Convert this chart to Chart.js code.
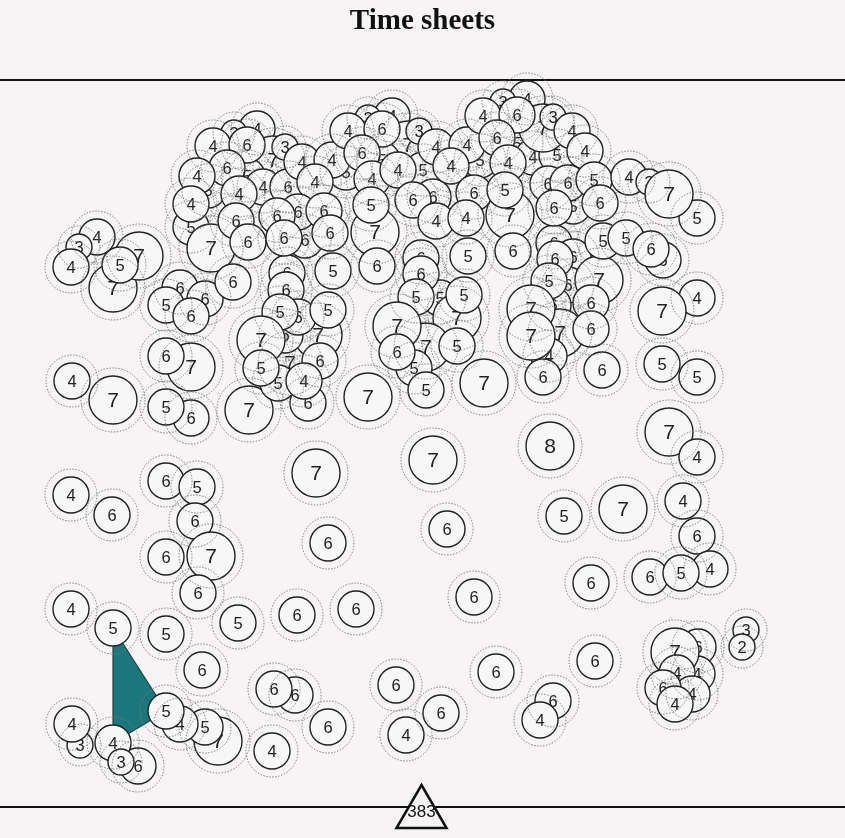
<!DOCTYPE html>
<html><head><meta charset="utf-8">
<script src="https://cdn.jsdelivr.net/npm/chart.js@4.4.1/dist/chart.umd.min.js"></script>
<style>html,body{margin:0;padding:0;background:#f6f4f4;}#wrap{width:845px;height:838px;position:relative;}</style>
</head><body><div id="wrap"><canvas id="c"></canvas></div>
<script>
const chartTitle = 'Time sheets';
const totalLabel = '383';
const bubbleX = [
257,273,247,263,288,208,392,408,382,346,
423,433,480,517,533,557,527,543,510,573,
375,421,440,457,554,573,568,553,599,560,
549,290,318,287,663,698,113,286,285,298,
305,697,80,218,138,234,213,247,285,227,
197,302,332,368,348,382,362,372,398,419,
436,467,451,503,483,517,497,508,553,572,
585,315,239,191,191,298,277,324,211,236,
248,371,413,474,505,548,568,594,629,649,
669,600,554,436,466,284,330,97,79,139,
71,120,180,205,166,191,233,191,166,72,
113,191,166,333,377,513,468,421,603,626,
651,555,549,591,531,531,591,543,602,416,
464,426,397,457,414,397,426,484,368,280,
328,249,308,278,320,261,261,304,697,662,
662,697,669,697,550,316,433,71,112,166,
197,195,211,166,198,328,447,564,623,683,
697,591,710,650,681,474,71,166,238,297,
356,202,295,274,328,272,396,496,595,441,
406,553,540,697,675,677,692,663,675,746,
742,72,205,180,166,113,113,121];
const bubbleY = [
129,160,176,187,187,190,116,145,160,172,
170,197,160,143,157,155,99,128,215,206,
232,258,298,318,243,257,285,305,280,333,
356,363,335,273,260,647,288,290,335,317,
240,218,745,741,766,133,146,145,147,168,
176,162,160,118,131,129,153,179,170,131,
147,145,166,102,116,115,138,163,117,131,
151,182,194,227,204,212,216,211,248,221,
242,205,200,193,190,184,183,180,177,182,
194,203,208,221,218,238,233,237,247,256,
267,265,288,299,305,316,282,367,356,381,
400,418,407,271,266,251,256,274,241,238,
249,259,281,303,309,336,329,377,370,297,
295,347,326,346,368,352,390,383,397,312,
310,410,403,383,361,340,368,381,298,311,
364,377,432,457,446,473,460,495,515,481,
487,521,556,557,593,543,529,516,509,501,
536,583,569,577,573,597,609,634,623,615,
609,670,695,689,727,751,685,672,661,713,
735,701,720,674,652,673,694,688,704,630,
647,724,727,724,711,628,743,762];
const bubbleValue = [
4,7,5,4,6,5,4,7,5,5,
5,6,5,5,4,5,4,7,7,5,
7,6,5,7,6,6,6,6,7,7,
4,7,7,6,6,6,7,6,6,6,
6,5,3,7,6,3,4,6,3,6,
4,4,4,3,4,6,6,4,4,3,
4,4,4,3,4,6,6,4,3,4,
4,4,4,5,4,6,6,6,7,6,
6,5,6,6,5,6,6,5,4,3,
7,6,6,4,4,6,6,4,3,7,
4,5,6,6,5,6,6,7,6,4,
7,6,5,5,6,6,5,6,5,5,
6,6,5,6,7,7,6,6,6,5,
5,7,7,5,5,6,5,7,7,5,
5,7,6,5,6,7,5,4,4,7,
5,5,7,4,8,7,7,4,6,6,
5,6,7,6,6,6,6,5,7,4,
6,6,4,6,5,6,4,5,5,6,
6,6,6,6,6,4,6,6,6,6,
4,6,4,4,7,4,4,6,4,3,
2,4,5,4,5,5,4,3];
const highlightedIdx = [205, 204, 206];

const BG = '#f6f4f4';
function radiusFor(v){ return v <= 3 ? 13 : (v <= 6 ? 18 : 24); }
function fontFor(v){ return v >= 7 ? 21 : 16.5; }

class LabeledBubbleController extends Chart.BubbleController {
  getMaxOverflow() { return false; }
  draw() {
    const ctx = this.chart.ctx;
    const area = this.chart.chartArea;
    const meta = this.getMeta();
    const data = this.getDataset().data;
    meta.data.forEach((el, i) => {
      el.draw(ctx, area);
      const v = data[i].v;
      ctx.save();
      ctx.font = fontFor(v) + 'px "Liberation Sans", Arial, sans-serif';
      ctx.fillStyle = '#222';
      ctx.textAlign = 'center';
      ctx.textBaseline = 'middle';
      ctx.fillText(String(v), el.x, el.y + 1);
      ctx.restore();
    });
  }
}
LabeledBubbleController.id = 'labeledBubble';
LabeledBubbleController.defaults = Chart.BubbleController.defaults;
LabeledBubbleController.overrides = Chart.BubbleController.overrides;

class RingController extends Chart.BubbleController {
  getMaxOverflow() { return false; }
  draw() {
    const ctx = this.chart.ctx;
    ctx.save();
    ctx.setLineDash([1.4, 1.6]);
    super.draw();
    ctx.restore();
  }
}
RingController.id = 'ringBubble';
RingController.defaults = Chart.BubbleController.defaults;
RingController.overrides = Chart.BubbleController.overrides;
Chart.register(LabeledBubbleController, RingController);

const points = bubbleX.map((x, i) => ({x: x, y: bubbleY[i], v: bubbleValue[i], r: radiusFor(bubbleValue[i])}));
const rings = points.map(p => ({x: p.x, y: p.y, r: p.r + 8}));
const polygon = highlightedIdx.concat([highlightedIdx[0]]).map(i => ({x: bubbleX[i], y: bubbleY[i]}));

const decor = {
  id: 'decor',
  beforeDraw(chart) {
    const ctx = chart.ctx;
    ctx.save(); ctx.fillStyle = BG; ctx.fillRect(0, 0, chart.width, chart.height); ctx.restore();
  },
  beforeDatasetsDraw(chart) {
    const ctx = chart.ctx, a = chart.chartArea;
    ctx.save();
    ctx.strokeStyle = '#111'; ctx.lineWidth = 2;
    [a.top, a.bottom].forEach(y => { ctx.beginPath(); ctx.moveTo(0, y); ctx.lineTo(chart.width, y); ctx.stroke(); });
    ctx.restore();
  },
  afterDraw(chart) {
    const ctx = chart.ctx, a = chart.chartArea;
    const cx = (a.left + a.right) / 2 - 1;
    ctx.save();
    ctx.beginPath();
    ctx.moveTo(cx, a.bottom - 22);
    ctx.lineTo(cx + 25, a.bottom + 21);
    ctx.lineTo(cx - 25, a.bottom + 21);
    ctx.closePath();
    ctx.fillStyle = BG; ctx.fill();
    ctx.strokeStyle = '#111'; ctx.lineWidth = 2.5; ctx.lineJoin = 'miter'; ctx.stroke();
    ctx.font = '17px "Liberation Sans", Arial, sans-serif';
    ctx.fillStyle = '#111'; ctx.textAlign = 'center'; ctx.textBaseline = 'middle';
    ctx.fillText(totalLabel, cx, a.bottom + 5);
    ctx.restore();
  }
};

new Chart(document.getElementById('c'), {
  type: 'bubble',
  data: { datasets: [
    { type: 'ringBubble', data: rings, backgroundColor: 'rgba(0,0,0,0)', borderColor: '#7a7a7a', borderWidth: 1, order: 1, clip: false },
    { type: 'labeledBubble', data: points, backgroundColor: '#f8f7f7', borderColor: '#222', borderWidth: 1.4, order: 2, clip: false },
    { type: 'line', data: polygon, fill: 'shape', backgroundColor: '#1a787c', borderColor: '#1c4446', borderWidth: 1.2, pointRadius: 0, tension: 0, order: 3, clip: false }
  ]},
  options: {
    responsive: true, maintainAspectRatio: false, animation: false, events: [],
    layout: { autoPadding: false, padding: { top: 0, left: 0, right: 0, bottom: 31 } },
    plugins: {
      legend: { display: false }, tooltip: { enabled: false },
      title: { display: true, text: chartTitle, color: '#111',
        font: { family: '"Liberation Serif", serif', size: 29, weight: 'bold', lineHeight: 1.2 },
        padding: { top: 4, bottom: 41.2 } }
    },
    scales: {
      x: { type: 'linear', min: 0, max: 845, display: false },
      y: { type: 'linear', min: 80, max: 807, reverse: true, display: false }
    }
  },
  plugins: [decor]
});
</script></body></html>
